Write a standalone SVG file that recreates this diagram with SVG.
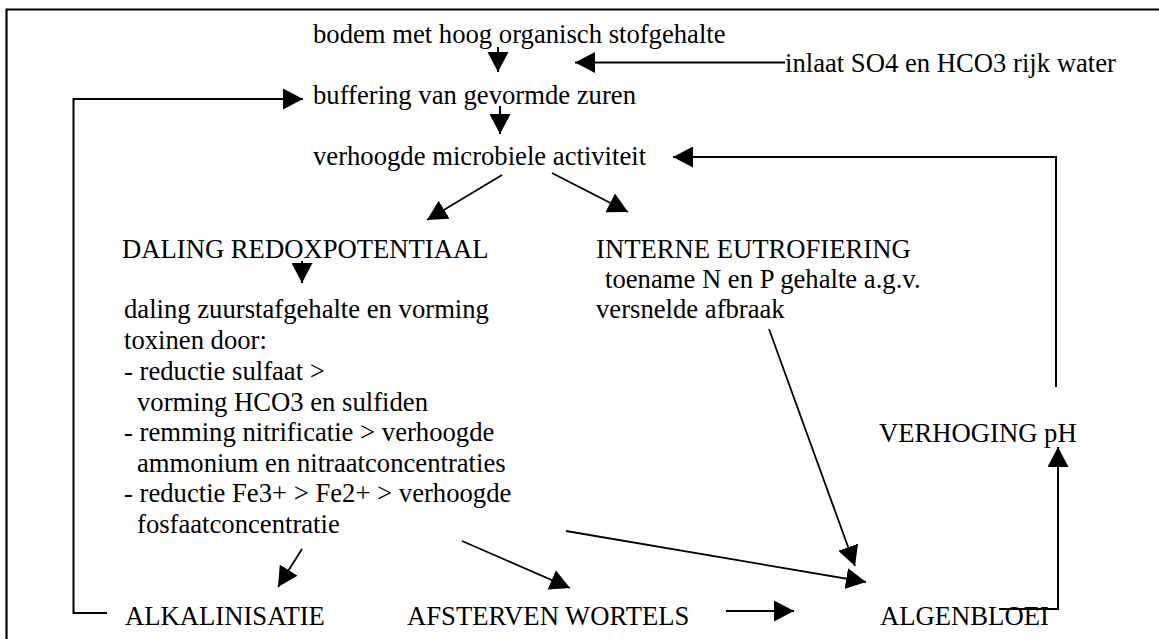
<svg xmlns="http://www.w3.org/2000/svg" width="1159" height="639" viewBox="0 0 1159 639">
<style>
text{font-family:"Liberation Serif","Times New Roman",serif;font-size:26.67px;fill:#000}
.c{fill:none;stroke:#000;stroke-width:2}
.d{fill:none;stroke:#000;stroke-width:1.8}
.frame{fill:none;stroke:#000;stroke-width:2.2}
</style>
<defs>
<marker id="ah" markerUnits="userSpaceOnUse" viewBox="0 0 20 21" refX="20" refY="10.5" markerWidth="20" markerHeight="21" orient="auto">
<path d="M0,0 L20,10.5 L0,21 Z" fill="#000"/>
</marker>
</defs>
<rect width="1159" height="639" fill="#fff"/>
<path class="frame" d="M6.5,639 V9.5 H1159"/>
<g id="bodem"><text x="313" y="43">bodem met hoog organisch stofgehalte</text></g>
<g id="inlaat"><text x="785" y="72">inlaat SO4 en HCO3 rijk water</text></g>
<g id="buffering"><text x="313" y="104">buffering van gevormde zuren</text></g>
<g id="microbiele"><text x="313" y="165">verhoogde microbiele activiteit</text></g>
<g id="daling-redox"><text x="122" y="258">DALING REDOXPOTENTIAAL</text></g>
<g id="interne-eutrofiering">
<text x="596" y="258">INTERNE EUTROFIERING</text>
<text x="605" y="288">toename N en P gehalte a.g.v.</text>
<text x="596" y="318">versnelde afbraak</text>
</g>
<g id="daling-zuurstof">
<text x="124" y="318">daling zuurstafgehalte en vorming</text>
<text x="124" y="349">toxinen door:</text>
<text x="124" y="380">- reductie sulfaat &gt;</text>
<text x="137" y="411">vorming HCO3 en sulfiden</text>
<text x="124" y="441">- remming nitrificatie &gt; verhoogde</text>
<text x="137" y="472">ammonium en nitraatconcentraties</text>
<text x="124" y="502">- reductie Fe3+ &gt; Fe2+ &gt; verhoogde</text>
<text x="137" y="533">fosfaatconcentratie</text>
</g>
<g id="verhoging-ph"><text x="879" y="442">VERHOGING pH</text></g>
<g id="alkalinisatie"><text x="125" y="625">ALKALINISATIE</text></g>
<g id="afsterven"><text x="407" y="625">AFSTERVEN WORTELS</text></g>
<g id="algenbloei"><text x="880" y="625">ALGENBLOEI</text></g>
<g id="connectors">
<path class="c" d="M498,47 V72" marker-end="url(#ah)"/>
<path class="c" d="M785,62.5 H575" marker-end="url(#ah)"/>
<path class="c" d="M500,106 V134" marker-end="url(#ah)"/>
<path class="c" d="M107,613 H73.5 V99 H303" marker-end="url(#ah)"/>
<path class="c" d="M1056,387 V157 H673" marker-end="url(#ah)"/>
<path class="d" d="M502,175 L427,220" marker-end="url(#ah)"/>
<path class="d" d="M552,173 L628,212" marker-end="url(#ah)"/>
<path class="c" d="M302,261 V283" marker-end="url(#ah)"/>
<path class="d" d="M769,329 L855,566" marker-end="url(#ah)"/>
<path class="d" d="M566,531 L866,582" marker-end="url(#ah)"/>
<path class="d" d="M462,541 L570,588" marker-end="url(#ah)"/>
<path class="d" d="M302,549 L278,587" marker-end="url(#ah)"/>
<path class="c" d="M726,611 H794" marker-end="url(#ah)"/>
<path class="c" d="M999,609 H1058 V447" marker-end="url(#ah)"/>
</g>
</svg>
